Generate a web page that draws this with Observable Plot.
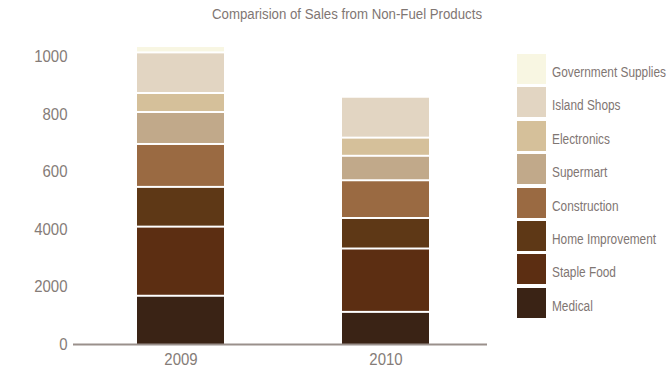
<!DOCTYPE html>
<html>
<head>
<meta charset="utf-8">
<script src="https://cdn.jsdelivr.net/npm/d3@7"></script>
<script src="https://cdn.jsdelivr.net/npm/@observablehq/plot@0.6"></script>
<style>
  html, body { margin: 0; padding: 0; background: #fff; }
  #wrap { position: relative; width: 668px; height: 368px; overflow: hidden;
    font-family: "Liberation Sans", Arial, sans-serif; }
  #title { position: absolute; left: 0; top: 6px; font-size: 14px; line-height: 16px; color: #7f7673; white-space: nowrap; }
  #chart { position: absolute; left: 0; top: 0; }
  .lg { position: absolute; left: 517px; height: 30px; width: 200px; }
  .lg .sw { position: absolute; left: 0; top: 0; width: 29px; height: 30px; }
  .lg .tx { position: absolute; left: 35px; top: 10px; font-size: 14px; line-height: 16px; color: #7f7673; white-space: nowrap; transform-origin: 0 50%; }
</style>
</head>
<body>
<div id="wrap">
  <div id="chart"></div>
  <div id="title">Comparision of Sales from Non-Fuel Products</div>
  <div id="legend"></div>
</div>
<script>
const years = ["2009", "2010"];
const categories = ["Medical", "Staple Food", "Home Improvement", "Construction", "Supermart", "Electronics", "Island Shops", "Government Supplies"];
const sales2009 = [171, 240, 138, 149, 111, 66, 141, 22];
const sales2010 = [115, 220, 106, 131, 85, 63, 142, 0];
const colors = ["#3a2315", "#5c2e12", "#5e3816", "#9a6a42", "#c1a98a", "#d5c09a", "#e2d5c2", "#f8f6e2"];
const yTicks = [0, 200, 400, 600, 800, 1000];
const yTickLabels = ["0", "2000", "4000", "600", "800", "1000"];

const rows = [];
categories.forEach((c, i) => {
  rows.push({year: years[0], category: c, value: sales2009[i]});
  rows.push({year: years[1], category: c, value: sales2010[i]});
});

const axisColor = "#9a908b";
const textColor = "#857c78";

const plot = Plot.plot({
  width: 668,
  height: 368,
  marginTop: 56,
  marginBottom: 24,
  marginLeft: 73,
  marginRight: 181,
  style: {fontFamily: "'Liberation Sans', Arial, sans-serif", fontSize: "17px", color: textColor, background: "transparent"},
  x: {domain: years, paddingInner: 0.578, paddingOuter: 0.294, align: 0.525, label: null},
  y: {domain: [0, 1000], label: null},
  color: {domain: categories, range: colors},
  marks: [
    Plot.barY(rows, {x: "year", y: "value", fill: "category", order: categories, insetTop: 2}),
    Plot.axisY({ticks: yTicks, tickSize: 0, tickPadding: 6, tickFormat: (d) => yTickLabels[yTicks.indexOf(d)], fill: textColor}),
    Plot.axisX({tickSize: 0, tickPadding: 8, fill: textColor}),
    Plot.ruleX([0], {frameAnchor: "left", y1: 0, y2: 1000, stroke: axisColor, strokeWidth: 2}),
    Plot.ruleY([0], {stroke: axisColor, strokeWidth: 2})
  ]
});
document.getElementById("chart").appendChild(plot);

// condense the axis tick labels to mimic the narrow face of the original
plot.querySelectorAll('g[aria-label$="tick label"] text').forEach((t) => {
  const w = t.getComputedTextLength();
  t.setAttribute("textLength", (w * 0.88).toFixed(2));
  t.setAttribute("lengthAdjust", "spacingAndGlyphs");
});

// title: condense and centre
const title = document.getElementById("title");
const tw = title.getBoundingClientRect().width;
const tScale = 270 / tw;
title.style.transformOrigin = "0 50%";
title.style.transform = `scaleX(${tScale})`;
title.style.left = (346.7 - 135) + "px";

const legend = document.getElementById("legend");
const legendTop = 54, legendStep = 33.4;
const texts = [];
categories.slice().reverse().forEach((c, i) => {
  const row = document.createElement("div");
  row.className = "lg";
  row.style.top = (legendTop + i * legendStep) + "px";
  const sw = document.createElement("div");
  sw.className = "sw";
  sw.style.background = colors[categories.indexOf(c)];
  const tx = document.createElement("div");
  tx.className = "tx";
  tx.textContent = c;
  row.appendChild(sw);
  row.appendChild(tx);
  legend.appendChild(row);
  texts.push(tx);
});
const home = texts.find((t) => t.textContent === "Home Improvement");
const gov = texts.find((t) => t.textContent === "Government Supplies");
const lScale = Math.min(110 / home.getBoundingClientRect().width, 114 / gov.getBoundingClientRect().width);
texts.forEach((t) => { t.style.transform = `scaleX(${lScale})`; });
</script>
</body>
</html>
